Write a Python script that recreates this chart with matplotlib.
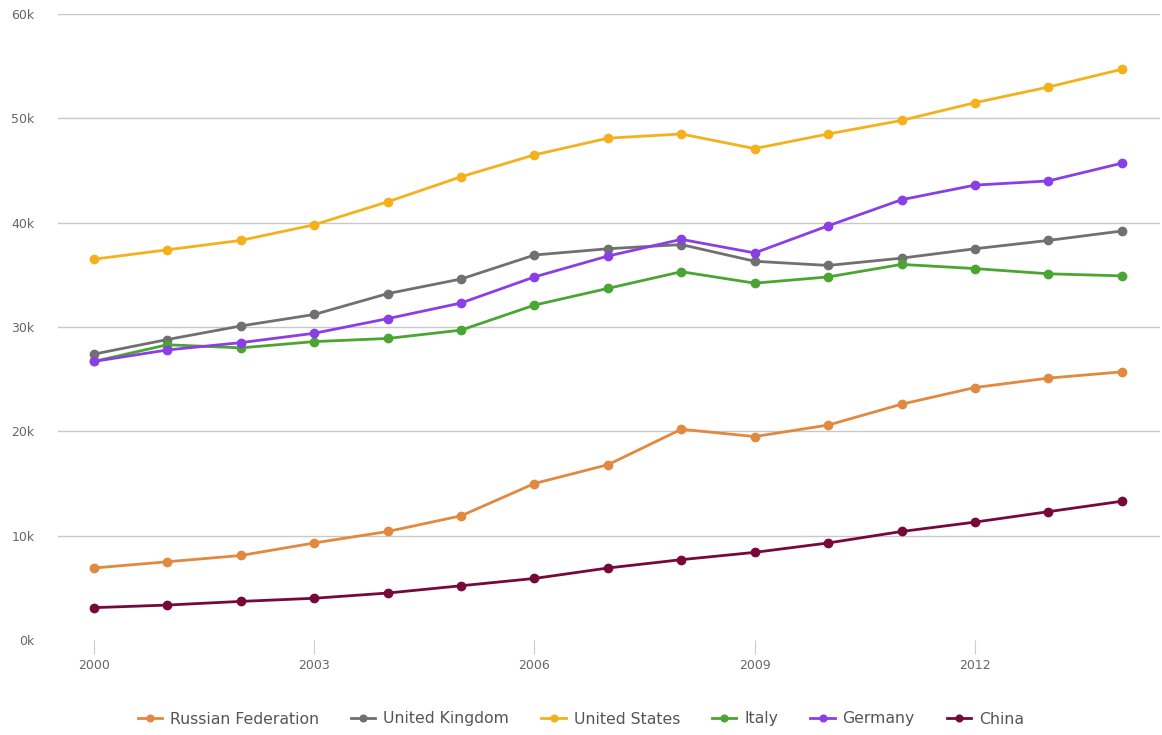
import matplotlib.pyplot as plt
from matplotlib.ticker import FuncFormatter

years = list(range(2000, 2015))
russia = [6.9, 7.5, 8.1, 9.3, 10.4, 11.9, 15.0, 16.8, 20.2, 19.5, 20.6, 22.6, 24.2, 25.1, 25.7]
uk = [27.4, 28.8, 30.1, 31.2, 33.2, 34.6, 36.9, 37.5, 37.9, 36.3, 35.9, 36.6, 37.5, 38.3, 39.2]
us = [36.5, 37.4, 38.3, 39.8, 42.0, 44.4, 46.5, 48.1, 48.5, 47.1, 48.5, 49.8, 51.5, 53.0, 54.7]
italy = [26.7, 28.3, 28.0, 28.6, 28.9, 29.7, 32.1, 33.7, 35.3, 34.2, 34.8, 36.0, 35.6, 35.1, 34.9]
germany = [26.7, 27.8, 28.5, 29.4, 30.8, 32.3, 34.8, 36.8, 38.4, 37.1, 39.7, 42.2, 43.6, 44.0, 45.7]
china = [3.1, 3.35, 3.7, 4.0, 4.5, 5.2, 5.9, 6.9, 7.7, 8.4, 9.3, 10.4, 11.3, 12.3, 13.3]

names = ['Russian Federation', 'United Kingdom', 'United States', 'Italy', 'Germany', 'China']
series = [russia, uk, us, italy, germany, china]
colors = ['#e0893f', '#707070', '#f4b11c', '#4aa532', '#8a3fe6', '#76093a']

fig = plt.figure(figsize=(11.62, 7.35), dpi=100)
ax = fig.add_axes([58 / 1162, 1 - 640 / 735, 1102 / 1162, 626 / 735])

for name, vals, c in zip(names, series, colors):
    ax.plot(years, [v * 1000 for v in vals], color=c, lw=2, marker='o', ms=6, label=name)

ax.set_xlim(1999.51, 2014.52)
ax.set_ylim(0, 60000)
ax.set_yticks(range(0, 60001, 10000))
ax.set_xticks([2000, 2003, 2006, 2009, 2012])
ax.yaxis.set_major_formatter(FuncFormatter(lambda v, p: '%dk' % (v / 1000)))
ax.grid(axis='y', color='#c8c8c8', lw=1)
ax.yaxis.get_gridlines()[0].set_visible(False)
ax.set_axisbelow(True)
for s in ax.spines.values():
    s.set_visible(False)
ax.tick_params(axis='y', length=0, pad=17, labelsize=9, labelcolor='#666666')
ax.tick_params(axis='x', length=10, color='#cccccc', pad=4, labelsize=9, labelcolor='#666666')

fig.legend(loc='center', bbox_to_anchor=(0.5, 1 - 719 / 735), ncol=6, frameon=False,
           fontsize=11.3, labelcolor='#555555', handlelength=1.55, columnspacing=2.05,
           handletextpad=0.5, markerscale=0.8)

fig.savefig('out.png', dpi=100)
